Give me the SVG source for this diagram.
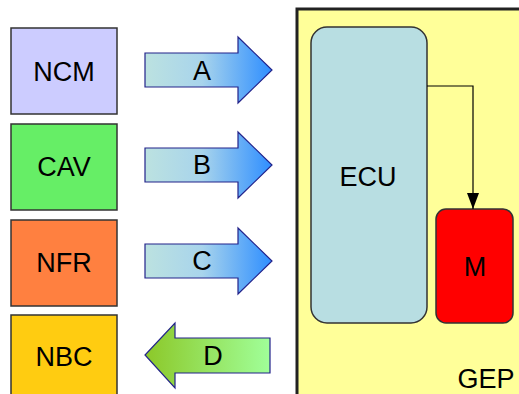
<svg xmlns="http://www.w3.org/2000/svg" width="519" height="394" viewBox="0 0 519 394">
<style>
.box{stroke:#333;stroke-width:1.5}
.lbl{font-family:"Liberation Sans",Arial,sans-serif;font-size:27px;fill:#000;text-anchor:middle;dominant-baseline:central}
.arr{stroke:#22228a;stroke-width:1.2}
</style>
<defs>
<linearGradient id="gBlue" x1="0" y1="0" x2="1" y2="0">
<stop offset="0" stop-color="#BCE2E0"/>
<stop offset="0.45" stop-color="#A8D4EC"/>
<stop offset="1" stop-color="#2E8EFF"/>
</linearGradient>
<linearGradient id="gGreen" x1="0" y1="0" x2="1" y2="0">
<stop offset="0" stop-color="#8CC828"/>
<stop offset="1" stop-color="#A0FF99"/>
</linearGradient>
<marker id="ah" markerWidth="16" markerHeight="12" refX="16" refY="6" orient="auto" markerUnits="userSpaceOnUse" viewBox="0 0 16 12">
<path d="M0,0 L16,6 L0,12 Z" fill="#000"/>
</marker>
</defs>
<rect width="519" height="394" fill="#fff"/>
<g id="GEP">
<rect x="297" y="9" width="240" height="400" fill="#FFFF99" stroke="#222" stroke-width="3"/>
<text class="lbl" x="486" y="379">GEP</text>
</g>
<g id="NCM"><rect class="box" x="11" y="28" width="106" height="86" fill="#CCCCFF"/><text class="lbl" x="64" y="72">NCM</text></g>
<g id="CAV"><rect class="box" x="11" y="124" width="106" height="86" fill="#66EE66"/><text class="lbl" x="64" y="167">CAV</text></g>
<g id="NFR"><rect class="box" x="11" y="220" width="106" height="86" fill="#FF8040"/><text class="lbl" x="64" y="263">NFR</text></g>
<g id="NBC"><rect class="box" x="11" y="315" width="106" height="86" fill="#FFCC11"/><text class="lbl" x="64" y="357">NBC</text></g>
<g id="ECU"><rect class="box" x="311" y="27" width="116" height="296" rx="16" fill="#B8DEE2"/><text class="lbl" x="368" y="177">ECU</text></g>
<g id="M"><rect class="box" x="436" y="209" width="77" height="114" rx="10" fill="#FF0000"/><text class="lbl" x="475" y="267">M</text></g>
<g id="connectors">
<g id="arrowA"><path class="arr" d="M145,53 H238 V37 L272,70 L238,103 V87 H145 Z" fill="url(#gBlue)"/><text class="lbl" x="202" y="71">A</text></g>
<g id="arrowB"><path class="arr" d="M145,148 H238 V132 L272,165 L238,198 V182 H145 Z" fill="url(#gBlue)"/><text class="lbl" x="202" y="165">B</text></g>
<g id="arrowC"><path class="arr" d="M145,244 H238 V228 L272,261 L238,294 V278 H145 Z" fill="url(#gBlue)"/><text class="lbl" x="202" y="261">C</text></g>
<g id="arrowD"><path class="arr" d="M270,338 H175 V323 L145,355 L175,388 V373 H270 Z" fill="url(#gGreen)"/><text class="lbl" x="213" y="356">D</text></g>
<path d="M427,86 H473 V209" fill="none" stroke="#000" stroke-width="1.2" marker-end="url(#ah)"/>
</g>
</svg>
